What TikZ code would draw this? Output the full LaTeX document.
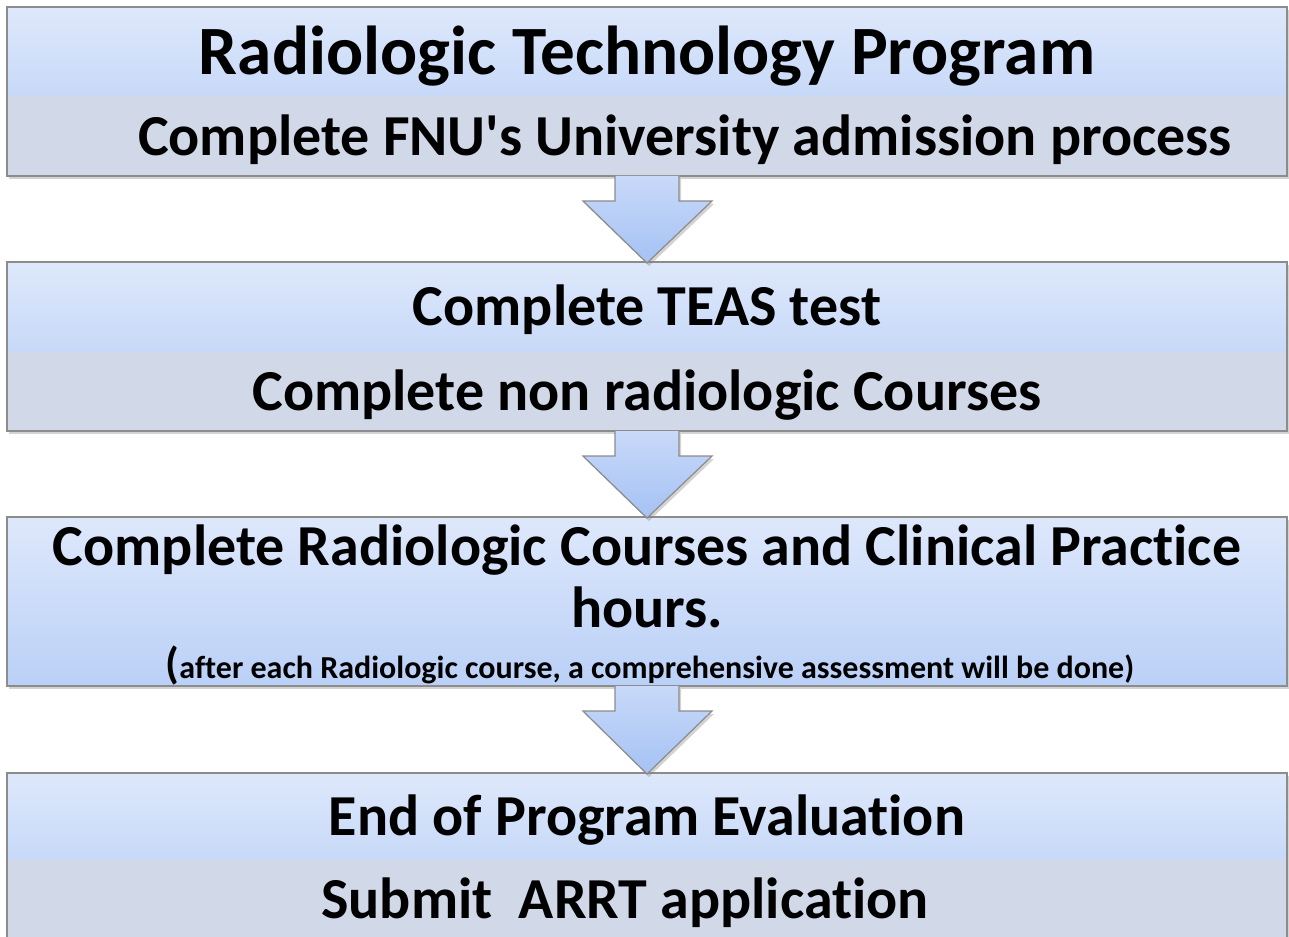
\documentclass[tikz,border=0pt]{standalone}
\usepackage{fontspec}
\setmainfont{Carlito}[Ligatures={TeXOff,NoCommon}]
\usetikzlibrary{positioning,calc,shadows}

\definecolor{bandtop}{RGB}{222,232,251}
\definecolor{bandbot}{RGB}{199,217,248}
\definecolor{deepbot}{RGB}{186,208,247}
\definecolor{lowband}{RGB}{209,216,232}
\definecolor{arrowtop}{RGB}{200,217,249}
\definecolor{arrowbot}{RGB}{165,194,244}
\definecolor{edge}{RGB}{140,140,140}

\tikzset{
    shade/.style={drop shadow={shadow xshift=1pt, shadow yshift=-1.5pt, opacity=.35}},
    band/.style={shade, minimum width=640pt, minimum height=45pt, inner sep=0pt, outer sep=0pt,
        top color=bandtop, bottom color=bandbot,
        font=\bfseries\fontsize{29}{31}\selectfont, text height=18.7pt, text depth=0pt},
    lowband/.style={band, minimum height=39.5pt, fill=lowband, top color=lowband, bottom color=lowband},
    frame/.style={draw=edge, line width=.7pt},
    arrowshape/.style={shade, draw=edge, line width=.6pt, line join=miter,
        top color=arrowtop, bottom color=arrowbot}
}

\begin{document}
\begin{tikzpicture}[x=0.5pt, y=-0.5pt]
    \useasboundingbox (0,0) rectangle (1289,936);

    \node[band, font=\bfseries\fontsize{34.6}{36}\selectfont, text height=22.3pt] (prog) at (647,52) {Radiologic Technology Program};
    \node[lowband, below=0pt of prog] (fnu) {\hspace*{38pt}Complete FNU's University admission process};
    \draw[frame] (prog.north west) rectangle (fnu.south east);

    \node[band, below=43pt of fnu] (teas) {Complete TEAS test};
    \node[lowband, below=0pt of teas] (nonrad) {Complete non radiologic Courses};
    \draw[frame] (teas.north west) rectangle (nonrad.south east);

    \node[band, frame, below=43pt of nonrad, minimum height=84.5pt, bottom color=deepbot,
        align=center, text height=49pt, text depth=23.5pt] (radcourse)
        {Complete Radiologic Courses and Clinical Practice\\hours.};
    \node[anchor=base, font=\bfseries\fontsize{16}{18}\selectfont] (note) at ($(radcourse.south)+(3,-8)$)
        {{\fontsize{22}{22}\selectfont(}after each Radiologic course, a comprehensive assessment will be done)};

    \node[band, below=43.5pt of radcourse, minimum height=43.5pt] (evalprog) {End of Program Evaluation};
    \node[lowband, below=0pt of evalprog] (submit) {Submit\ \ ARRT application\hspace*{22pt}};
    \draw[frame] (evalprog.north west) rectangle (submit.south east);

    % block arrows between the stages
    \foreach \a/\b in {fnu/teas, nonrad/radcourse, radcourse/evalprog}
        \path[arrowshape] ($(\a.south)+(-32,0)$) -- ($(\a.south)+(-32,25)$) -- ($(\a.south)+(-64,25)$)
            -- ($(\b.north)+(0,1)$) -- ($(\a.south)+(65,25)$) -- ($(\a.south)+(32,25)$) -- ($(\a.south)+(32,0)$);
\end{tikzpicture}
\end{document}
